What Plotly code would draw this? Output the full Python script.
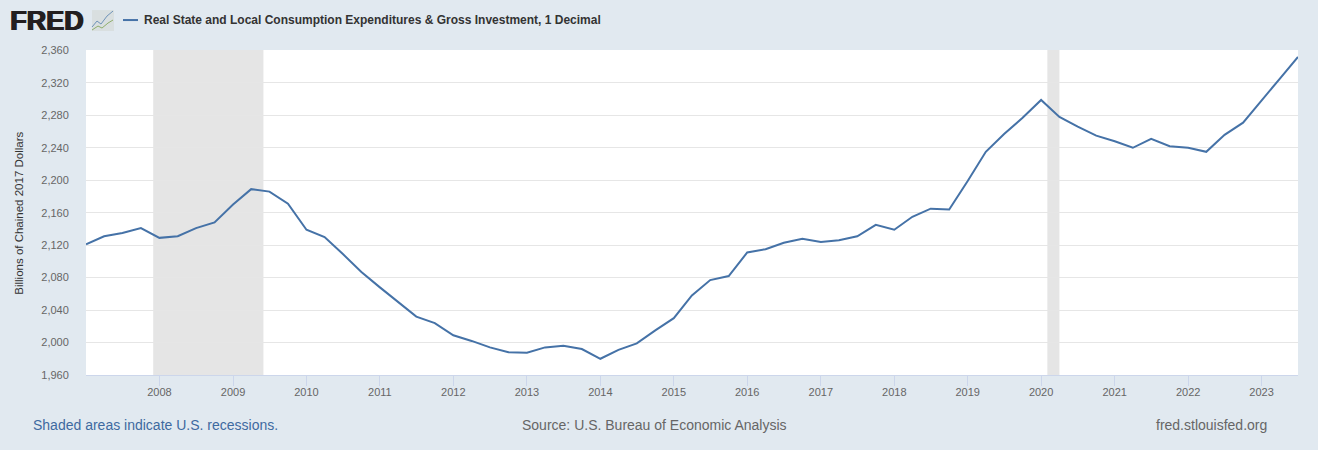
import plotly.graph_objects as go

W, H = 1318, 450
dates = [f"{y}-{m:02d}-01" for y in range(2007, 2024) for m in (1, 4, 7, 10)][:67]
values = [2121, 2131, 2135, 2141,
          2129, 2131, 2141, 2148,
          2170, 2189, 2186, 2171,
          2139, 2130, 2109, 2087,
          2068, 2050, 2032, 2024,
          2009, 2002, 1994, 1988,
          1987.5, 1994, 1996, 1992,
          1980, 1991, 1999, 2015,
          2030, 2058, 2077, 2082,
          2111, 2115, 2123, 2128,
          2124, 2126, 2131, 2145,
          2139, 2155, 2165, 2164,
          2199, 2235, 2257, 2277,
          2299, 2278, 2266, 2255,
          2248, 2240, 2251, 2242,
          2240, 2235, 2256, 2271,
          2299, 2325, 2352]
recessions = [("2007-12-01", "2009-06-01"), ("2020-02-01", "2020-04-01")]
y_ticks = list(range(1960, 2361, 40))
x_ticks = [f"{y}-01-01" for y in range(2008, 2024)]
x_labels = [str(y) for y in range(2008, 2024)]
series_name = "Real State and Local Consumption Expenditures & Gross Investment, 1 Decimal"
y_title = "Billions of Chained 2017 Dollars"

FONT = "Liberation Sans, Arial, sans-serif"
LINE = "#4572a7"
L, R, T, B = 86, 20, 50, 74.5
PW, PH = W - L - R, H - T - B

fig = go.Figure(go.Scatter(x=dates, y=values, mode="lines", name=series_name,
                           line=dict(color=LINE, width=2), hoverinfo="skip"))

for a, b in recessions:
    fig.add_shape(type="rect", xref="x", yref="paper", x0=a, x1=b, y0=0, y1=1,
                  fillcolor="#e5e5e5", line_width=0, layer="between")


def px(x):
    return (x - L) / PW


def py(y):
    return (H - B - y) / PH


def note(text, x, y, size, color, anchor="left", bold=False, shadow=None):
    font = dict(size=size, color=color, family=FONT)
    if shadow:
        font["shadow"] = shadow
    fig.add_annotation(xref="paper", yref="paper", x=px(x), y=py(y), text=f"<b>{text}</b>" if bold else text,
                       showarrow=False, xanchor=anchor, yanchor="middle", borderpad=0, font=font)


fig.update_layout(
    width=W, height=H, autosize=False, showlegend=False,
    paper_bgcolor="#e1e9f0", plot_bgcolor="#ffffff",
    margin=dict(l=L, r=R, t=T, b=B),
    font=dict(family=FONT, color="#666666", size=11),
    xaxis=dict(type="date", range=["2007-01-01", "2023-07-01"], tickmode="array",
               tickvals=x_ticks, ticktext=x_labels, ticks="outside", ticklen=10, tickwidth=1,
               tickcolor="#ccd6eb", showline=True, linecolor="#ccd6eb", linewidth=1,
               showgrid=False, tickfont=dict(size=11, color="#666666"), zeroline=False,
               ticklabelstandoff=-3),
    yaxis=dict(range=[1960, 2360.5], tickmode="array", tickvals=y_ticks,
               ticktext=[f"{v:,}" for v in y_ticks], showgrid=True, gridcolor="#e6e6e6", gridwidth=1,
               zeroline=False, ticks="outside", ticklen=14, tickcolor="rgba(0,0,0,0)",
               tickfont=dict(size=11, color="#666666")),
)

# vertical axis title
fig.add_annotation(xref="paper", yref="paper", x=px(19), y=py(214), text=y_title, showarrow=False,
                   textangle=-90, xanchor="center", yanchor="middle",
                   font=dict(size=11.5, color="#333333", family=FONT))

# header: logo word, logo icon and series key
note("FRED", 9, 21, 27, "#231f20", bold=True, shadow="1px 0 0 #231f20, -0.5px 0 0 #231f20")
fig.add_shape(type="rect", xref="paper", yref="paper", x0=px(92), x1=px(114), y0=py(31), y1=py(10),
              fillcolor="#d9dfe0", line_width=0, layer="above")
fig.add_shape(type="path", xref="paper", yref="paper", layer="above", line=dict(color="#6f93b8", width=1),
              path=f"M {px(92)} {py(27)} L {px(97)} {py(21)} L {px(101)} {py(24)} L {px(107)} {py(16)} L {px(113)} {py(11)}")
fig.add_shape(type="path", xref="paper", yref="paper", layer="above", line=dict(color="#8fae6c", width=1),
              path=f"M {px(92)} {py(30)} L {px(98)} {py(26)} L {px(102)} {py(28)} L {px(108)} {py(23)} L {px(113)} {py(20)}")
fig.add_shape(type="line", xref="paper", yref="paper", x0=px(123), x1=px(138), y0=py(20), y1=py(20),
              line=dict(color=LINE, width=2), layer="above")
note(series_name, 143, 19.5, 12, "#333333", bold=True)

# footer
note("Shaded areas indicate U.S. recessions.", 32, 426, 14, "#3e6aa0")
note("Source: U.S. Bureau of Economic Analysis", 654, 426, 14, "#666666", anchor="center")
note("fred.stlouisfed.org", 1268, 426, 14, "#666666", anchor="right")

fig.write_html("out.html", config={"displayModeBar": False},
               post_script="document.documentElement.style.margin='0';document.body.style.margin='0';document.body.style.background='#e1e9f0';")
